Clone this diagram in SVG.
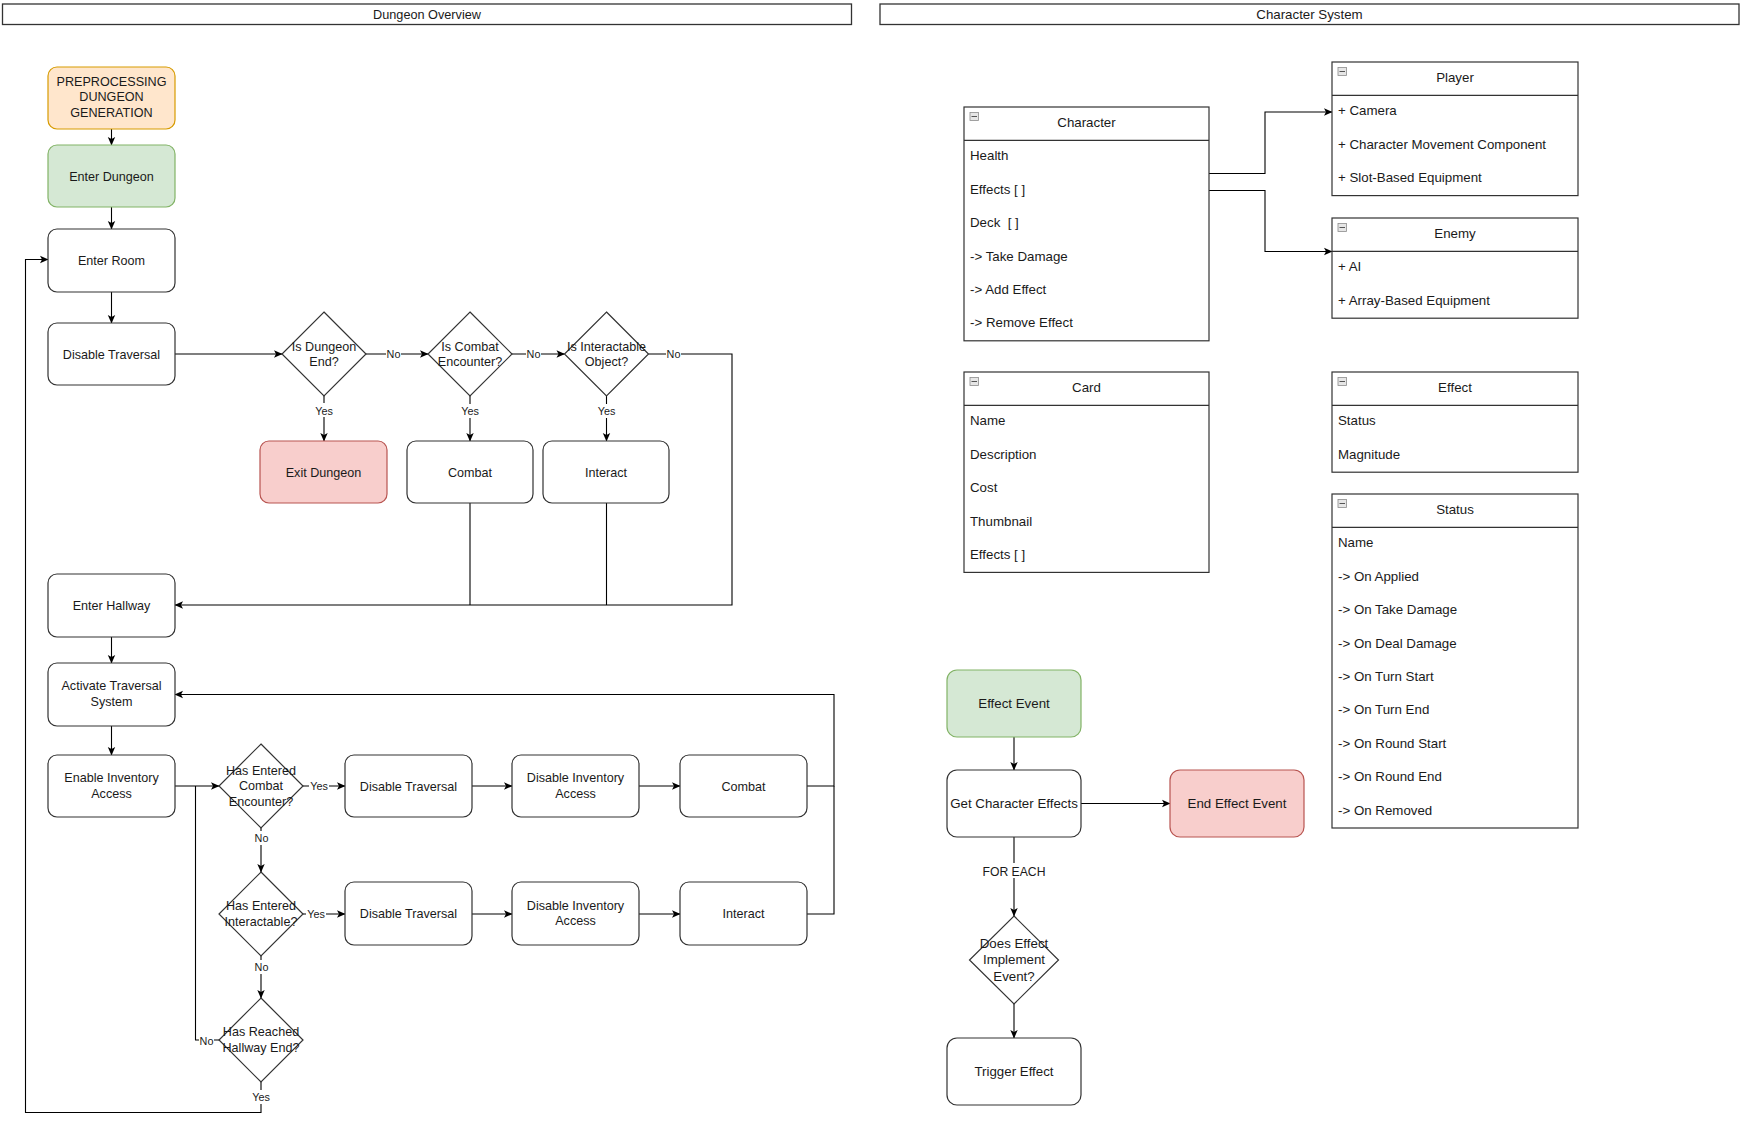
<svg xmlns="http://www.w3.org/2000/svg" width="1745" height="1130" viewBox="0 0 1745 1130">
<defs>
<marker id="arr" markerWidth="10" markerHeight="10" refX="9" refY="5" orient="auto" markerUnits="userSpaceOnUse">
<path d="M1,1.3 L9.5,5 L1,8.7 L3,5 Z" fill="#000"/>
</marker>
<style>
.n{fill:#fff;stroke:#333;stroke-width:1.2}
.org{fill:#ffe6cc;stroke:#d79b00}
.grn{fill:#d5e8d4;stroke:#82b366}
.red{fill:#f8cecc;stroke:#b85450}
.hdr{fill:#fff;stroke:#333;stroke-width:1.3}
.t{font-family:"Liberation Sans",Arial,sans-serif;font-size:12.6px;fill:#1a1a1a;text-anchor:middle}
.tr{font-family:"Liberation Sans",Arial,sans-serif;font-size:13.3px;fill:#1a1a1a;text-anchor:middle}
.at{font-family:"Liberation Sans",Arial,sans-serif;font-size:13.3px;fill:#1a1a1a;text-anchor:start}
.lb{font-family:"Liberation Sans",Arial,sans-serif;font-size:10.8px;fill:#1a1a1a;text-anchor:middle}
.lb2{font-family:"Liberation Sans",Arial,sans-serif;font-size:12.2px;fill:#1a1a1a;text-anchor:middle}
.c{fill:none;stroke:#000;stroke-width:1.1}
.ca{fill:none;stroke:#000;stroke-width:1.1;marker-end:url(#arr)}
.lbg{fill:#fff}
.ico{fill:#e6e6e6;stroke:#8c8c8c;stroke-width:0.8}
</style>
</defs>
<rect width="1745" height="1130" fill="#fff"/>

<!-- Section headers -->
<g id="hdr-dungeon">
<rect class="hdr" x="2.5" y="4" width="849" height="20.5"/>
<text class="t" x="427" y="18.5" style="font-size:12.7px">Dungeon Overview</text>
</g>
<g id="hdr-character">
<rect class="hdr" x="880" y="4" width="859" height="20.5"/>
<text class="tr" x="1309.5" y="18.8">Character System</text>
</g>

<!-- Connectors -->
<g id="connectors">
<path class="ca" d="M111.5,129 V145"/>
<path class="ca" d="M111.5,207 V229"/>
<path class="ca" d="M111.5,292 V323"/>
<path class="ca" d="M175,354 H282"/>
<path class="ca" d="M366,354 H428"/>
<path class="ca" d="M512,354 H564.5"/>
<path class="ca" d="M648.5,354 H732 V605 H175"/>
<path class="ca" d="M324,396 V441"/>
<path class="ca" d="M470,396 V441"/>
<path class="ca" d="M606.5,396 V441"/>
<path class="c" d="M470,503 V605"/>
<path class="c" d="M606.5,503 V605"/>
<path class="ca" d="M111.5,637 V663"/>
<path class="ca" d="M111.5,726 V755"/>
<path class="ca" d="M175,786 H219"/>
<path class="ca" d="M303,786 H345"/>
<path class="ca" d="M472,786 H512"/>
<path class="ca" d="M639,786 H680"/>
<path class="ca" d="M807,786 H834 V694.5 H175"/>
<path class="c" d="M807,914 H834 V786"/>
<path class="ca" d="M261,828 V872"/>
<path class="ca" d="M303,914 H345"/>
<path class="ca" d="M472,914 H512"/>
<path class="ca" d="M639,914 H680"/>
<path class="ca" d="M261,956 V998"/>
<path class="c" d="M219,1040 H195.5 V786"/>
<path class="ca" d="M261,1082 V1112.5 H25.5 V259.5 H48"/>
<path class="ca" d="M1209,173.5 H1265 V112 H1332"/>
<path class="ca" d="M1209,190.5 H1265 V251.5 H1332"/>
<path class="ca" d="M1014,737 V770"/>
<path class="ca" d="M1081,803.5 H1170"/>
<path class="ca" d="M1014,837 V916"/>
<path class="ca" d="M1014,1004 V1038"/>
<!-- labels -->
<rect class="lbg" x="386" y="347" width="15" height="14"/>
<text class="lb" x="393.5" y="358">No</text>
<rect class="lbg" x="526" y="347" width="15" height="14"/>
<text class="lb" x="533.5" y="358">No</text>
<rect class="lbg" x="666" y="347" width="15" height="14"/>
<text class="lb" x="673.5" y="358">No</text>
<rect class="lbg" x="314" y="403" width="20" height="14"/>
<text class="lb" x="324" y="414.5">Yes</text>
<rect class="lbg" x="460" y="404" width="20" height="14"/>
<text class="lb" x="470" y="415">Yes</text>
<rect class="lbg" x="596.5" y="404" width="20" height="14"/>
<text class="lb" x="606.5" y="415">Yes</text>
<rect class="lbg" x="309" y="779" width="20" height="14"/>
<text class="lb" x="319" y="790">Yes</text>
<rect class="lbg" x="254" y="831" width="15" height="14"/>
<text class="lb" x="261.5" y="842">No</text>
<rect class="lbg" x="306" y="907" width="20" height="14"/>
<text class="lb" x="316" y="918">Yes</text>
<rect class="lbg" x="254" y="960" width="15" height="14"/>
<text class="lb" x="261.5" y="971">No</text>
<rect class="lbg" x="199" y="1034" width="15" height="14"/>
<text class="lb" x="206.5" y="1045">No</text>
<rect class="lbg" x="251" y="1090" width="20" height="14"/>
<text class="lb" x="261" y="1101">Yes</text>
<rect class="lbg" x="981" y="863" width="66" height="15"/>
<text class="lb2" x="1014" y="875.5">FOR EACH</text>
</g>

<!-- Dungeon Overview nodes -->
<g id="n-prep"><rect class="n org" x="48" y="67" width="127" height="62" rx="9"/>
<text class="t" x="111.5" y="85.5">PREPROCESSING</text><text class="t" x="111.5" y="101">DUNGEON</text><text class="t" x="111.5" y="116.5">GENERATION</text></g>
<g id="n-enter-dungeon"><rect class="n grn" x="48" y="145" width="127" height="62" rx="9"/>
<text class="t" x="111.5" y="180.5">Enter Dungeon</text></g>
<g id="n-enter-room"><rect class="n" x="48" y="229" width="127" height="63" rx="9"/>
<text class="t" x="111.5" y="264.5">Enter Room</text></g>
<g id="n-disable-trav"><rect class="n" x="48" y="323" width="127" height="62" rx="9"/>
<text class="t" x="111.5" y="358.5">Disable Traversal</text></g>
<g id="n-is-dungeon-end"><polygon class="n" points="324,312 366,354 324,396 282,354"/>
<text class="t" x="324" y="350.5">Is Dungeon</text><text class="t" x="324" y="366">End?</text></g>
<g id="n-is-combat"><polygon class="n" points="470,312 512,354 470,396 428,354"/>
<text class="t" x="470" y="350.5">Is Combat</text><text class="t" x="470" y="366">Encounter?</text></g>
<g id="n-is-interactable"><polygon class="n" points="606.5,312 648.5,354 606.5,396 564.5,354"/>
<text class="t" x="606.5" y="350.5">Is Interactable</text><text class="t" x="606.5" y="366">Object?</text></g>
<g id="n-exit-dungeon"><rect class="n red" x="260" y="441" width="127" height="62" rx="9"/>
<text class="t" x="323.5" y="476.5">Exit Dungeon</text></g>
<g id="n-combat"><rect class="n" x="407" y="441" width="126" height="62" rx="9"/>
<text class="t" x="470" y="476.5">Combat</text></g>
<g id="n-interact"><rect class="n" x="543" y="441" width="126" height="62" rx="9"/>
<text class="t" x="606" y="476.5">Interact</text></g>
<g id="n-enter-hallway"><rect class="n" x="48" y="574" width="127" height="63" rx="9"/>
<text class="t" x="111.5" y="609.5">Enter Hallway</text></g>
<g id="n-activate"><rect class="n" x="48" y="663" width="127" height="63" rx="9"/>
<text class="t" x="111.5" y="690">Activate Traversal</text><text class="t" x="111.5" y="705.5">System</text></g>
<g id="n-enable-inv"><rect class="n" x="48" y="755" width="127" height="62" rx="9"/>
<text class="t" x="111.5" y="782">Enable Inventory</text><text class="t" x="111.5" y="797.5">Access</text></g>
<g id="n-has-combat"><polygon class="n" points="261,744 303,786 261,828 219,786"/>
<text class="t" x="261" y="774.5">Has Entered</text><text class="t" x="261" y="790">Combat</text><text class="t" x="261" y="805.5">Encounter?</text></g>
<g id="n-dt1"><rect class="n" x="345" y="755" width="127" height="62" rx="9"/>
<text class="t" x="408.5" y="790.5">Disable Traversal</text></g>
<g id="n-dia1"><rect class="n" x="512" y="755" width="127" height="62" rx="9"/>
<text class="t" x="575.5" y="782">Disable Inventory</text><text class="t" x="575.5" y="797.5">Access</text></g>
<g id="n-combat2"><rect class="n" x="680" y="755" width="127" height="62" rx="9"/>
<text class="t" x="743.5" y="790.5">Combat</text></g>
<g id="n-has-interact"><polygon class="n" points="261,872 303,914 261,956 219,914"/>
<text class="t" x="261" y="910">Has Entered</text><text class="t" x="261" y="925.5">Interactable?</text></g>
<g id="n-dt2"><rect class="n" x="345" y="882" width="127" height="63" rx="9"/>
<text class="t" x="408.5" y="918">Disable Traversal</text></g>
<g id="n-dia2"><rect class="n" x="512" y="882" width="127" height="63" rx="9"/>
<text class="t" x="575.5" y="909.5">Disable Inventory</text><text class="t" x="575.5" y="925">Access</text></g>
<g id="n-interact2"><rect class="n" x="680" y="882" width="127" height="63" rx="9"/>
<text class="t" x="743.5" y="918">Interact</text></g>
<g id="n-hallway-end"><polygon class="n" points="261,998 303,1040 261,1082 219,1040"/>
<text class="t" x="261" y="1036">Has Reached</text><text class="t" x="261" y="1051.5">Hallway End?</text></g>

<!-- Character System classes -->
<g id="n-character">
<rect class="n" x="964" y="107" width="245" height="233.8"/>
<line class="n" x1="964" y1="140.4" x2="1209" y2="140.4"/>
<rect class="ico" x="970" y="112.5" width="8.5" height="8"/><line x1="971.5" y1="116.5" x2="977" y2="116.5" stroke="#555" stroke-width="1"/>
<text class="tr" x="1086.5" y="127">Character</text>
<text class="at" x="970" y="160.3">Health</text>
<text class="at" x="970" y="193.7">Effects [ ]</text>
<text class="at" x="970" y="227.1">Deck&#160; [ ]</text>
<text class="at" x="970" y="260.5">-&gt; Take Damage</text>
<text class="at" x="970" y="293.9">-&gt; Add Effect</text>
<text class="at" x="970" y="327.3">-&gt; Remove Effect</text>
</g>
<g id="n-player">
<rect class="n" x="1332" y="62" width="246" height="133.6"/>
<line class="n" x1="1332" y1="95.4" x2="1578" y2="95.4"/>
<rect class="ico" x="1338" y="67.5" width="8.5" height="8"/><line x1="1339.5" y1="71.5" x2="1345" y2="71.5" stroke="#555" stroke-width="1"/>
<text class="tr" x="1455" y="82">Player</text>
<text class="at" x="1338" y="115.3">+ Camera</text>
<text class="at" x="1338" y="148.7">+ Character Movement Component</text>
<text class="at" x="1338" y="182.1">+ Slot-Based Equipment</text>
</g>
<g id="n-enemy">
<rect class="n" x="1332" y="218" width="246" height="100.2"/>
<line class="n" x1="1332" y1="251.4" x2="1578" y2="251.4"/>
<rect class="ico" x="1338" y="223.5" width="8.5" height="8"/><line x1="1339.5" y1="227.5" x2="1345" y2="227.5" stroke="#555" stroke-width="1"/>
<text class="tr" x="1455" y="238">Enemy</text>
<text class="at" x="1338" y="271.3">+ AI</text>
<text class="at" x="1338" y="304.7">+ Array-Based Equipment</text>
</g>
<g id="n-card">
<rect class="n" x="964" y="372" width="245" height="200.4"/>
<line class="n" x1="964" y1="405.4" x2="1209" y2="405.4"/>
<rect class="ico" x="970" y="377.5" width="8.5" height="8"/><line x1="971.5" y1="381.5" x2="977" y2="381.5" stroke="#555" stroke-width="1"/>
<text class="tr" x="1086.5" y="392">Card</text>
<text class="at" x="970" y="425.3">Name</text>
<text class="at" x="970" y="458.7">Description</text>
<text class="at" x="970" y="492.1">Cost</text>
<text class="at" x="970" y="525.5">Thumbnail</text>
<text class="at" x="970" y="558.9">Effects [ ]</text>
</g>
<g id="n-effect">
<rect class="n" x="1332" y="372" width="246" height="100.2"/>
<line class="n" x1="1332" y1="405.4" x2="1578" y2="405.4"/>
<rect class="ico" x="1338" y="377.5" width="8.5" height="8"/><line x1="1339.5" y1="381.5" x2="1345" y2="381.5" stroke="#555" stroke-width="1"/>
<text class="tr" x="1455" y="392">Effect</text>
<text class="at" x="1338" y="425.3">Status</text>
<text class="at" x="1338" y="458.7">Magnitude</text>
</g>
<g id="n-status">
<rect class="n" x="1332" y="494" width="246" height="334"/>
<line class="n" x1="1332" y1="527.4" x2="1578" y2="527.4"/>
<rect class="ico" x="1338" y="499.5" width="8.5" height="8"/><line x1="1339.5" y1="503.5" x2="1345" y2="503.5" stroke="#555" stroke-width="1"/>
<text class="tr" x="1455" y="514">Status</text>
<text class="at" x="1338" y="547.3">Name</text>
<text class="at" x="1338" y="580.7">-&gt; On Applied</text>
<text class="at" x="1338" y="614.1">-&gt; On Take Damage</text>
<text class="at" x="1338" y="647.5">-&gt; On Deal Damage</text>
<text class="at" x="1338" y="680.9">-&gt; On Turn Start</text>
<text class="at" x="1338" y="714.3">-&gt; On Turn End</text>
<text class="at" x="1338" y="747.7">-&gt; On Round Start</text>
<text class="at" x="1338" y="781.1">-&gt; On Round End</text>
<text class="at" x="1338" y="814.5">-&gt; On Removed</text>
</g>

<!-- Effect event flow -->
<g id="n-effect-event"><rect class="n grn" x="947" y="670" width="134" height="67" rx="10"/>
<text class="tr" x="1014" y="707.5">Effect Event</text></g>
<g id="n-get-effects"><rect class="n" x="947" y="770" width="134" height="67" rx="10"/>
<text class="tr" x="1014" y="807.5">Get Character Effects</text></g>
<g id="n-end-effect"><rect class="n red" x="1170" y="770" width="134" height="67" rx="10"/>
<text class="tr" x="1237" y="807.5">End Effect Event</text></g>
<g id="n-does-effect"><polygon class="n" points="1014,916 1058.5,960 1014,1004 969.5,960"/>
<text class="tr" x="1014" y="947.5">Does Effect</text><text class="tr" x="1014" y="964">Implement</text><text class="tr" x="1014" y="980.5">Event?</text></g>
<g id="n-trigger"><rect class="n" x="947" y="1038" width="134" height="67" rx="10"/>
<text class="tr" x="1014" y="1075.5">Trigger Effect</text></g>
</svg>
